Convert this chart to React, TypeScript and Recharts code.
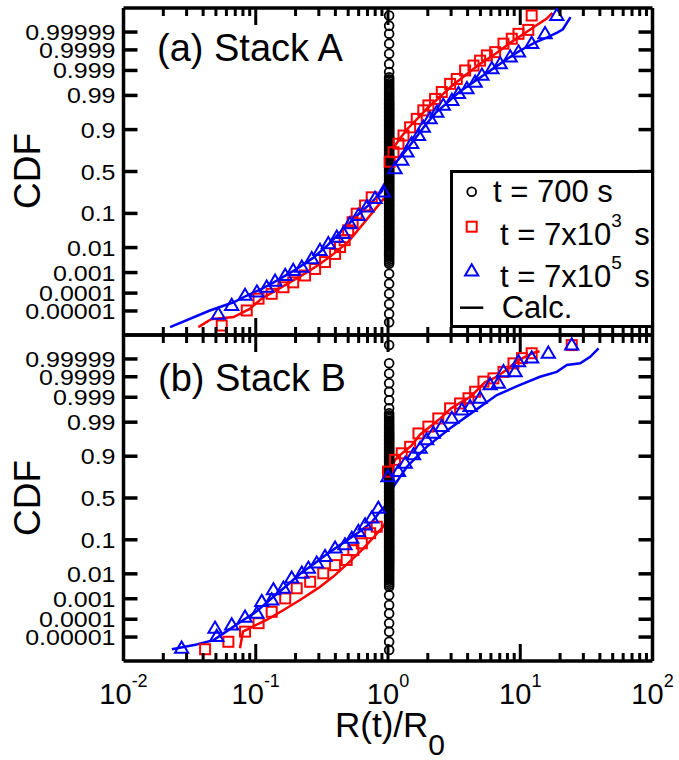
import React from 'react';
import { ComposedChart, Scatter, Line, XAxis, YAxis, Legend } from 'recharts';

const FONT = '"Liberation Sans", Arial, Helvetica, sans-serif';

// ---- axis tick labels ----
const cdfTickLabels = ['0.00001', '0.0001', '0.001', '0.01', '0.1', '0.5', '0.9', '0.99', '0.999', '0.9999', '0.99999'];
const xDecades = [0.01, 0.1, 1, 10, 100];
const xDecadeExponents = ['-2', '-1', '0', '1', '2'];
const xMinorMultipliers = [1, 2, 3, 4, 5, 6, 7, 8, 9];
const probitDomain = [-5, 5];

// ---- data: [R(t)/R0, normal quantile of CDF] ----
// Panel (a) Stack A
const r700A = 1.02;
const circlesA_z = [4.77, 4.46, 4.21, 3.91, 3.6, 3.29, 3.04,
  2.88, 2.82, 2.76, 2.70, 2.64, 2.58, 2.52, 2.47, 2.42, 2.37, 2.32, 2.27, 2.22, 2.17, 2.12, 2.08, 2.04, 2.0,
  1.96, 1.92, 1.88, 1.84, 1.80, 1.76, 1.72, 1.68, 1.64, 1.60, 1.56, 1.52, 1.48, 1.44, 1.40, 1.36, 1.32, 1.28,
  1.24, 1.20, 1.16, 1.12, 1.08, 1.04, 1.00, 0.96, 0.92, 0.88, 0.84, 0.80, 0.76, 0.72, 0.68, 0.64, 0.60, 0.56,
  0.52, 0.48, 0.44, 0.40, 0.36, 0.32, 0.28, 0.24, 0.20, 0.16, 0.12, 0.08, 0.04, 0.0, -0.04, -0.08, -0.12, -0.16,
  -0.20, -0.24, -0.28, -0.32, -0.36, -0.40, -0.44, -0.48, -0.52, -0.56, -0.60, -0.64, -0.68, -0.72, -0.76, -0.80,
  -0.84, -0.88, -0.92, -0.96, -1.00, -1.04, -1.08, -1.12, -1.16, -1.20, -1.24, -1.28, -1.32, -1.36, -1.40, -1.44,
  -1.48, -1.52, -1.56, -1.60, -1.64, -1.68, -1.72, -1.76, -1.80, -1.84, -1.88, -1.92, -1.96, -2.0, -2.04, -2.08,
  -2.12, -2.17, -2.22, -2.27, -2.32, -2.37, -2.42, -2.47, -2.52, -2.58, -2.64, -2.70, -2.76, -2.82,
  -3.13, -3.43, -3.74, -4.05, -4.35, -4.61];
const squaresA: [number, number][] = [
  [0.0553, -4.71], [0.0855, -4.25], [0.105, -3.89], [0.132, -3.74], [0.162, -3.54], [0.192, -3.39], [0.236, -3.18],
  [0.281, -2.98], [0.334, -2.77], [0.398, -2.52], [0.434, -2.31], [0.47, -2.1], [0.5, -1.8], [0.54, -1.55],
  [0.58, -1.29], [0.671, -1.04], [0.753, -0.79], [1.03, 0.3], [1.10, 0.59], [1.2, 0.85], [1.31, 1.10], [1.47, 1.35],
  [1.65, 1.61], [1.85, 1.87], [2.02, 2.02], [2.27, 2.22], [2.55, 2.43], [2.95, 2.68], [3.31, 2.83], [3.83, 3.09],
  [4.43, 3.24], [4.97, 3.39], [5.59, 3.55], [6.46, 3.65], [7.47, 3.91], [8.63, 4.06], [9.7, 4.21], [11.5, 4.33], [12.2, 4.77],
];
const trianglesA: [number, number][] = [
  [0.0521, -4.37], [0.0658, -4.10], [0.083, -3.79], [0.102, -3.69], [0.121, -3.54], [0.140, -3.36], [0.167, -3.18],
  [0.192, -3.03], [0.223, -2.93], [0.265, -2.67], [0.306, -2.42], [0.354, -2.21], [0.41, -2.01], [0.46, -1.9],
  [0.516, -1.60], [0.597, -1.35], [0.692, -1.09], [0.798, -0.83], [0.923, -0.63], [1.13, 0.08], [1.27, 0.34],
  [1.39, 0.59], [1.51, 0.85], [1.70, 1.10], [1.85, 1.35], [2.08, 1.61], [2.34, 1.81], [2.62, 2.02], [3.04, 2.17],
  [3.41, 2.38], [3.95, 2.53], [4.56, 2.73], [5.13, 2.94], [6.1, 3.14], [7.05, 3.29], [8.4, 3.50], [9.7, 3.65],
  [12.2, 3.91], [15.4, 4.21], [18.9, 4.77],
];
const redCalcA: [number, number][] = [
  [0.0368, -4.76], [0.046, -4.52], [0.068, -4.45], [0.09, -4.2], [0.11, -3.9], [0.14, -3.65], [0.18, -3.4],
  [0.24, -3.1], [0.3, -2.85], [0.38, -2.55], [0.5, -2.15], [0.65, -1.6], [0.8, -1.15], [0.92, -0.85], [0.99, -0.75],
  [1.0, 0.45], [1.05, 0.6], [1.2, 0.95], [1.4, 1.3], [1.7, 1.65], [2.0, 1.95], [2.5, 2.3], [3.0, 2.6], [4.0, 3.0],
  [5.0, 3.3], [6.5, 3.6], [8.5, 3.95], [11, 4.25], [13, 4.45], [15.8, 4.67], [17.5, 4.85],
];
const blueCalcA: [number, number][] = [
  [0.0225, -4.76], [0.045, -4.25], [0.068, -4.0], [0.085, -3.8], [0.11, -3.6], [0.15, -3.3], [0.2, -3.0],
  [0.27, -2.65], [0.35, -2.25], [0.45, -1.8], [0.6, -1.3], [0.75, -0.95], [0.9, -0.6], [0.98, -0.2], [1.02, 0.0],
  [1.1, 0.2], [1.25, 0.45], [1.4, 0.7], [1.6, 1.0], [1.9, 1.4], [2.3, 1.8], [2.8, 2.1], [3.5, 2.45], [4.5, 2.75],
  [6, 3.1], [8, 3.45], [10, 3.7], [13, 3.95], [16, 4.1], [19, 4.25], [21, 4.35], [24, 4.72],
];

// Panel (b) Stack B
const r700B = 1.02;
const circlesB_z = [4.69, 4.13, 3.82, 3.52, 3.26, 3.0, 2.75,
  2.60, 2.54, 2.48, 2.42, 2.36, 2.30, 2.25, 2.20, 2.15, 2.10, 2.05, 2.0, 1.96, 1.92, 1.88, 1.84, 1.80, 1.76,
  1.72, 1.68, 1.64, 1.60, 1.56, 1.52, 1.48, 1.44, 1.40, 1.36, 1.32, 1.28, 1.24, 1.20, 1.16, 1.12, 1.08, 1.04,
  1.00, 0.96, 0.92, 0.88, 0.84, 0.80, 0.76, 0.72, 0.68, 0.64, 0.60, 0.56, 0.52, 0.48, 0.44, 0.40, 0.36, 0.32,
  0.28, 0.24, 0.20, 0.16, 0.12, 0.08, 0.04, 0.0, -0.04, -0.08, -0.12, -0.16, -0.20, -0.24, -0.28, -0.32, -0.36,
  -0.40, -0.44, -0.48, -0.52, -0.56, -0.60, -0.64, -0.68, -0.72, -0.76, -0.80, -0.84, -0.88, -0.92, -0.96, -1.00,
  -1.04, -1.08, -1.12, -1.16, -1.20, -1.24, -1.28, -1.32, -1.36, -1.40, -1.44, -1.48, -1.52, -1.56, -1.60, -1.64,
  -1.68, -1.72, -1.76, -1.80, -1.84, -1.88, -1.92, -1.96, -2.0, -2.05, -2.10, -2.15, -2.20, -2.25, -2.30, -2.36,
  -2.42, -2.48, -2.54, -2.60, -2.66, -2.72,
  -2.98, -3.28, -3.54, -3.84, -4.1, -4.41, -4.66];
const squaresB: [number, number][] = [
  [0.0414, -4.64], [0.0621, -4.41], [0.083, -4.1], [0.105, -3.84], [0.132, -3.49], [0.167, -3.08], [0.204, -2.77],
  [0.258, -2.57], [0.324, -2.31], [0.398, -2.06], [0.487, -1.9], [0.547, -1.6], [0.634, -1.39], [0.733, -1.08],
  [0.822, -0.88], [1.0, 0.81], [1.13, 1.17], [1.27, 1.37], [1.47, 1.57], [1.70, 1.98], [2.02, 2.19], [2.40, 2.44],
  [2.95, 2.75], [3.51, 2.90], [4.06, 3.06], [4.56, 3.26], [5.27, 3.57], [6.27, 3.67], [7.47, 3.87], [8.89, 4.13],
  [10.3, 4.29], [12.2, 4.44], [24.5, 4.69],
];
const trianglesB: [number, number][] = [
  [0.0275, -4.61], [0.0492, -4.0], [0.0507, -4.25], [0.0658, -3.9], [0.083, -3.66], [0.102, -3.54], [0.111, -3.18],
  [0.132, -3.13], [0.136, -2.82], [0.162, -2.77], [0.187, -2.46], [0.223, -2.31], [0.25, -2.16], [0.289, -2.0],
  [0.334, -1.8], [0.398, -1.54], [0.473, -1.44], [0.532, -1.24], [0.597, -1.03], [0.671, -0.83], [0.753, -0.62],
  [0.845, -0.32], [1.0, 0.65], [1.2, 0.81], [1.35, 1.06], [1.56, 1.32], [1.75, 1.52], [1.96, 1.78], [2.2, 1.98],
  [2.55, 2.19], [3.04, 2.44], [3.62, 2.70], [4.18, 2.80], [4.97, 3.06], [5.92, 3.47], [6.84, 3.52], [7.47, 3.87],
  [9.14, 3.87], [9.7, 4.18], [12.2, 4.29], [16.3, 4.44], [24.5, 4.69],
];
const redCalcB: [number, number][] = [
  [0.076, -4.61], [0.08, -4.1], [0.1, -3.9], [0.121, -3.74], [0.16, -3.45], [0.216, -3.13], [0.3, -2.75],
  [0.386, -2.41], [0.5, -2.0], [0.65, -1.55], [0.8, -1.15], [0.93, -0.85], [0.99, -0.6], [1.0, 0.7], [1.13, 1.17],
  [1.3, 1.4], [1.5, 1.6], [1.75, 1.95], [2.1, 2.2], [2.5, 2.45], [3.0, 2.75], [3.6, 2.95], [4.2, 3.1], [4.7, 3.3],
  [5.4, 3.55], [6.5, 3.7], [7.7, 3.9], [9, 4.13], [10.5, 4.3], [12.5, 4.45], [14, 4.5],
];
const blueCalcB: [number, number][] = [
  [0.0232, -4.64], [0.035, -4.5], [0.048, -4.36], [0.065, -4.0], [0.08, -3.75], [0.1, -3.5], [0.13, -3.1],
  [0.17, -2.7], [0.22, -2.3], [0.28, -2.0], [0.35, -1.7], [0.45, -1.4], [0.6, -1.05], [0.75, -0.75], [0.87, -0.42],
  [1.0, -0.16], [1.1, 0.35], [1.39, 0.96], [1.96, 1.57], [2.95, 2.14], [4.43, 2.65], [6.65, 3.16], [9.98, 3.47],
  [14.1, 3.72], [18.9, 3.87], [22.5, 4.08], [28.4, 4.13], [33.8, 4.33], [39.1, 4.59],
];

// ---- helpers ----
function probit(p: number): number {
  const a = [-3.969683028665376e1, 2.209460984245205e2, -2.759285104469687e2, 1.38357751867269e2, -3.066479806614716e1, 2.506628277459239];
  const b = [-5.447609879822406e1, 1.615858368580409e2, -1.556989798598866e2, 6.680131188771972e1, -1.328068155288572e1];
  const c = [-7.784894002430293e-3, -3.223964580411365e-1, -2.400758277161838, -2.549732539343734, 4.374664141464968, 2.938163982698783];
  const d = [7.784695709041462e-3, 3.224671290700398e-1, 2.445134137142996, 3.754408661907416];
  const pl = 0.02425;
  if (p < pl) {
    const q = Math.sqrt(-2 * Math.log(p));
    return (((((c[0] * q + c[1]) * q + c[2]) * q + c[3]) * q + c[4]) * q + c[5]) / ((((d[0] * q + d[1]) * q + d[2]) * q + d[3]) * q + 1);
  }
  if (p <= 1 - pl) {
    const q = p - 0.5;
    const r = q * q;
    return ((((((a[0] * r + a[1]) * r + a[2]) * r + a[3]) * r + a[4]) * r + a[5]) * q) / (((((b[0] * r + b[1]) * r + b[2]) * r + b[3]) * r + b[4]) * r + 1);
  }
  const q = Math.sqrt(-2 * Math.log(1 - p));
  return -(((((c[0] * q + c[1]) * q + c[2]) * q + c[3]) * q + c[4]) * q + c[5]) / ((((d[0] * q + d[1]) * q + d[2]) * q + d[3]) * q + 1);
}

const yTickZ = cdfTickLabels.map((l) => probit(parseFloat(l)));
const xTickValues: number[] = [];
xDecades.forEach((d, i) => {
  if (i < xDecades.length - 1) xMinorMultipliers.forEach((m) => xTickValues.push(d * m));
  else xTickValues.push(d);
});

const toPts = (arr: [number, number][]) => arr.map(([x, y]) => ({ x, y }));
const colPts = (r: number, zs: number[]) => zs.map((y) => ({ x: r, y }));

const makeXTick = (dir: number, withLabels: boolean) => (props: any) => {
  const { x, y, payload } = props;
  const lg = Math.log10(payload.value);
  const isMajor = Math.abs(lg - Math.round(lg)) < 1e-6;
  const idx = xDecades.findIndex((d) => Math.abs(Math.log10(d) - lg) < 1e-6);
  const len = isMajor ? 17 : 8;
  return (
    <g>
      <line x1={x} x2={x} y1={y} y2={y + dir * len} stroke="#000" strokeWidth={3} />
      {withLabels && idx >= 0 && (
        <text x={x} y={y + 43} textAnchor="middle" fontFamily={FONT} fontSize={29} fill="#000">
          10<tspan dy={-17} fontSize={18}>{xDecadeExponents[idx]}</tspan>
        </text>
      )}
    </g>
  );
};

const makeYTick = (dir: number, withLabels: boolean) => (props: any) => {
  const { x, y, payload } = props;
  const idx = yTickZ.findIndex((z) => Math.abs(z - payload.value) < 1e-6);
  return (
    <g>
      <line x1={x} x2={x + dir * 14} y1={y} y2={y} stroke="#000" strokeWidth={3.5} />
      {withLabels && idx >= 0 && (
        <text transform={`translate(${x - 8},${y + 8}) scale(1,0.86)`} textAnchor="end" fontFamily={FONT}
          fontSize={25} fill="#000">
          {cdfTickLabels[idx]}
        </text>
      )}
    </g>
  );
};

const CircleShape = (p: any) => <circle cx={p.cx} cy={p.cy} r={4.4} fill="none" stroke="#000" strokeWidth={1.8} />;
const SquareShape = (p: any) => (
  <rect x={p.cx - 5} y={p.cy - 5} width={10} height={10} fill="none" stroke="#ff0000" strokeWidth={2} />
);
const TriShape = (p: any) => (
  <path d={`M${p.cx},${p.cy - 6.8} L${p.cx + 6.6},${p.cy + 4.4} L${p.cx - 6.6},${p.cy + 4.4} Z`} fill="none" stroke="#0000ff" strokeWidth={2} />
);

const LegendBox = () => (
  <svg width={204} height={158} style={{ display: 'block' }}>
    <rect x={1.5} y={1.5} width={201} height={155} fill="#fff" stroke="#000" strokeWidth={3} />
    <circle cx={21.7} cy={21.7} r={4.4} fill="none" stroke="#000" strokeWidth={1.8} />
    <text x={43} y={31.7} fontFamily={FONT} fontSize={31} fill="#000">t = 700 s</text>
    <rect x={21.7 - 5} y={56.7 - 5} width={10} height={10} fill="none" stroke="#ff0000" strokeWidth={2} />
    <text x={50} y={75} fontFamily={FONT} fontSize={31} fill="#000">
      t = 7x10<tspan dy={-18} fontSize={19}>3</tspan><tspan dy={18} dx={4}> s</tspan>
    </text>
    <path d="M21.7,94.2 L28.3,105.4 L15.1,105.4 Z" fill="none" stroke="#0000ff" strokeWidth={2} />
    <text x={50} y={116.7} fontFamily={FONT} fontSize={31} fill="#000">
      t = 7x10<tspan dy={-18} fontSize={19}>5</tspan><tspan dy={18} dx={4}> s</tspan>
    </text>
    <line x1={10} x2={33.3} y1={137.7} y2={137.7} stroke="#000" strokeWidth={2.5} />
    <text x={51.7} y={148} fontFamily={FONT} fontSize={31} fill="#000">Calc.</text>
  </svg>
);

const W = 679;
const H = 760;
const PLOT_LEFT = 123.5;
const PLOT_RIGHT = 652.5;
const AX = 1; // axis thickness reserved by Recharts layout

type PanelProps = {
  top: number;
  bottom: number;
  circles: { x: number; y: number }[];
  squares: [number, number][];
  triangles: [number, number][];
  redCalc: [number, number][];
  blueCalc: [number, number][];
  showXLabels: boolean;
  showLegend: boolean;
};

function Panel(p: PanelProps) {
  const axisLine = { stroke: '#000', strokeWidth: 3.5 };
  return (
    <ComposedChart
      width={W}
      height={H}
      margin={{ top: p.top - AX, bottom: H - p.bottom - AX, left: PLOT_LEFT - AX, right: W - PLOT_RIGHT - AX }}
    >
      <XAxis xAxisId="b" orientation="bottom" type="number" dataKey="x" scale="log" domain={[0.01, 100]}
        allowDataOverflow ticks={xTickValues} interval={0} tick={makeXTick(-1, p.showXLabels)}
        tickLine={false} tickSize={0} tickMargin={0} axisLine={axisLine} height={AX} />
      <XAxis xAxisId="t" orientation="top" type="number" dataKey="x" scale="log" domain={[0.01, 100]}
        allowDataOverflow ticks={xTickValues} interval={0} tick={makeXTick(1, false)}
        tickLine={false} tickSize={0} tickMargin={0} axisLine={axisLine} height={AX} />
      <YAxis yAxisId="l" orientation="left" type="number" dataKey="y" domain={probitDomain} allowDataOverflow
        ticks={yTickZ} interval={0} tick={makeYTick(1, true)} tickLine={false} tickSize={0} tickMargin={0}
        axisLine={axisLine} width={AX} />
      <YAxis yAxisId="r" orientation="right" type="number" dataKey="y" domain={probitDomain} allowDataOverflow
        ticks={yTickZ} interval={0} tick={makeYTick(-1, false)} tickLine={false} tickSize={0} tickMargin={0}
        axisLine={axisLine} width={AX} />
      <Scatter xAxisId="b" yAxisId="l" data={p.circles} shape={CircleShape} isAnimationActive={false} />
      <Scatter xAxisId="b" yAxisId="l" data={toPts(p.squares)} shape={SquareShape} isAnimationActive={false} />
      <Line xAxisId="b" yAxisId="l" data={toPts(p.redCalc)} dataKey="y" type="linear" stroke="#ff0000"
        strokeWidth={2.5} dot={false} activeDot={false} isAnimationActive={false} />
      <Scatter xAxisId="b" yAxisId="l" data={toPts(p.triangles)} shape={TriShape} isAnimationActive={false} />
      <Line xAxisId="b" yAxisId="l" data={toPts(p.blueCalc)} dataKey="y" type="linear" stroke="#0000ff"
        strokeWidth={2.5} dot={false} activeDot={false} isAnimationActive={false} />
      {p.showLegend && (
        <Legend layout="horizontal" verticalAlign="middle" align="center" content={LegendBox}
          wrapperStyle={{ position: 'absolute', left: 450, top: 170, width: 204, height: 158 }} />
      )}
    </ComposedChart>
  );
}

export default function App() {
  return (
    <div style={{ position: 'absolute', left: 0, top: 0, width: W, height: H, background: '#fff' }}>
      <div style={{ position: 'absolute', left: 0, top: 0 }}>
        <Panel top={8} bottom={335} circles={colPts(r700A, circlesA_z)} squares={squaresA} triangles={trianglesA}
          redCalc={redCalcA} blueCalc={blueCalcA} showXLabels={false} showLegend={true} />
      </div>
      <div style={{ position: 'absolute', left: 0, top: 0 }}>
        <Panel top={335} bottom={661} circles={colPts(r700B, circlesB_z)} squares={squaresB} triangles={trianglesB}
          redCalc={redCalcB} blueCalc={blueCalcB} showXLabels={true} showLegend={false} />
      </div>
      <svg width={W} height={H} style={{ position: 'absolute', left: 0, top: 0, pointerEvents: 'none' }}>
        <text x={157} y={61} fontFamily={FONT} fontSize={38} fill="#000">(a) Stack A</text>
        <text x={158} y={391} fontFamily={FONT} fontSize={38} fill="#000">(b) Stack B</text>
        <text transform="translate(40,171) rotate(-90)" textAnchor="middle" fontFamily={FONT} fontSize={37} fill="#000">CDF</text>
        <text transform="translate(40,498) rotate(-90)" textAnchor="middle" fontFamily={FONT} fontSize={37} fill="#000">CDF</text>
        <text x={390} y={737} textAnchor="middle" fontFamily={FONT} fontSize={35} fill="#000">
          R(t)/R<tspan dy={18} fontSize={30}>0</tspan>
        </text>
      </svg>
    </div>
  );
}
